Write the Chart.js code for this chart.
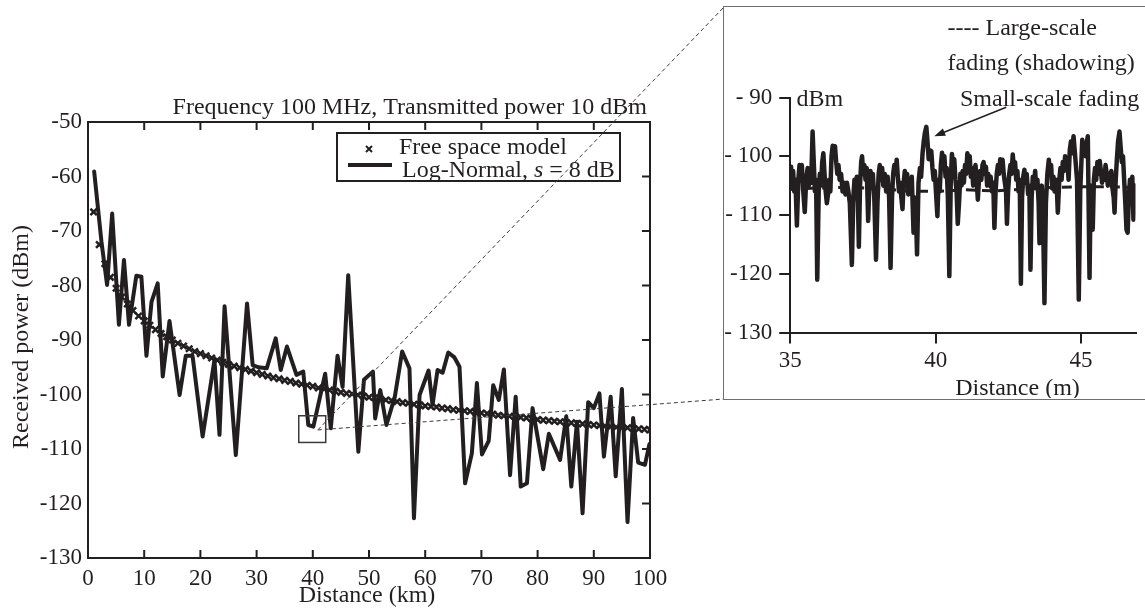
<!DOCTYPE html>
<html>
<head>
<meta charset="utf-8">
<script src="https://cdn.jsdelivr.net/npm/chart.js@4.4.1/dist/chart.umd.min.js"></script>
<style>
html, body { margin: 0; padding: 0; background: #fff; }
#wrap { position: relative; width: 1145px; height: 616px; overflow: hidden; }
#main { position: absolute; left: 0; top: 0; }
#insetBox { position: absolute; left: 723px; top: 6px; width: 422px; height: 394px;
  border: 1.5px solid #6f6f6f; border-right: none; box-sizing: border-box; background: #fff; }
#inset { position: absolute; left: 0; top: 0; }
</style>
</head>
<body>
<div id="wrap">
  <canvas id="main" width="1145" height="616"></canvas>
  <div id="insetBox"><canvas id="inset" width="420" height="391"></canvas></div>
</div>
<script>
// main chart: free space model (km, dBm)
const fsKm = [1,2,3,4,5,6,7,8,9,10,11,12,13,14,15,16,17,18,19,20,21,22,23,24,25,26,27,28,29,30,
  31,32,33,34,35,36,37,38,39,40,41,42,43,44,45,46,47,48,49,50,51,52,53,54,55,56,57,58,59,60,
  61,62,63,64,65,66,67,68,69,70,71,72,73,74,75,76,77,78,79,80,81,82,83,84,85,86,87,88,89,90,
  91,92,93,94,95,96,97,98,99,100];
const fsDbm = [-66.5,-72.5,-76.0,-78.5,-80.5,-82.1,-83.4,-84.6,-85.6,-86.5,
  -87.3,-88.1,-88.8,-89.4,-90.0,-90.6,-91.1,-91.6,-92.1,-92.5,
  -92.9,-93.3,-93.7,-94.1,-94.5,-94.8,-95.1,-95.4,-95.7,-96.0,
  -96.3,-96.6,-96.9,-97.1,-97.4,-97.6,-97.9,-98.1,-98.3,-98.5,
  -98.8,-99.0,-99.2,-99.4,-99.6,-99.8,-99.9,-100.1,-100.3,-100.5,
  -100.6,-100.8,-101.0,-101.1,-101.3,-101.5,-101.6,-101.8,-101.9,-102.1,
  -102.2,-102.3,-102.5,-102.6,-102.8,-102.9,-103.0,-103.1,-103.3,-103.4,
  -103.5,-103.6,-103.8,-103.9,-104.0,-104.1,-104.2,-104.3,-104.5,-104.6,
  -104.7,-104.8,-104.9,-105.0,-105.1,-105.2,-105.3,-105.4,-105.5,-105.6,
  -105.7,-105.8,-105.9,-106.0,-106.1,-106.1,-106.2,-106.3,-106.4,-106.5];

// main chart: log-normal shadowing (km, dBm)
const lnKm = [1.1,2.4,3.4,4.3,5.5,6.4,7.3,8.6,9.5,10.4,11.3,12.4,13.3,14.5,16.3,17.4,18.6,20.4,22.5,23.4,
  24.3,26.3,28.3,29.3,30.3,31.8,33.4,34.3,35.4,37.1,38.3,39.2,40.1,42.2,43.2,44.4,45.3,46.3,48.1,49.1,
  50.7,51.1,52.0,53.1,54.6,55.9,57.2,58.0,59.0,60.6,61.3,62.2,63.1,64.1,65.2,66.1,67.1,68.3,69.2,70.1,
  71.3,72.1,73.1,74.0,75.1,76.1,77.0,78.1,79.1,81.0,82.0,84.0,85.1,86.0,87.0,88.0,89.0,90.0,91.0,91.8,
  93.0,93.9,95.0,96.0,97.0,97.9,99.1,99.9];
const lnDbm = [-59.1,-72.0,-79.9,-66.8,-87.2,-75.3,-87.2,-78.2,-78.4,-92.9,-83.0,-79.6,-96.7,-86.5,-100.1,-92.9,-92.9,-107.7,-93.7,-107.4,
  -83.8,-111.1,-83.3,-94.6,-95.0,-95.2,-89.7,-95.5,-91.2,-96.4,-95.8,-105.6,-105.9,-96.2,-106.2,-92.9,-98.6,-78.1,-110.5,-97.3,
  -95.8,-104.4,-99.2,-105.6,-100.4,-92.1,-95.2,-122.7,-100.1,-95.6,-101.9,-95.5,-96.0,-92.3,-93.2,-94.9,-116.3,-110.8,-97.9,-111.0,
  -108.5,-98.3,-101.0,-95.4,-114.8,-100.4,-116.9,-116.3,-102.5,-113.7,-107.2,-112.0,-104.0,-116.9,-105.0,-121.8,-101.4,-102.5,-99.8,-111.4,
  -100.4,-115.0,-99.0,-123.4,-104.3,-112.5,-112.9,-109.1];

const mainXTicks = [0,10,20,30,40,50,60,70,80,90,100];
const mainYTicks = [-130,-120,-110,-100,-90,-80,-70,-60,-50];
const legendLabels = ['Free space model', 'Log-Normal, ', 's', ' = 8 dB'];
const mainTitle = 'Frequency 100 MHz, Transmitted power 10 dBm';

// zoomed region marked on main chart
const zoomKm = [37.5, 42.3];
const zoomDbm = [-103.9, -108.8];
const zoomAnchor = [40.9, -106.5];

// inset: small-scale fading (m, dBm)
const ssM = [35.00,35.03,35.07,35.10,35.14,35.18,35.23,35.28,35.32,35.36,35.40,35.45,35.50,35.55,35.60,35.64,35.68,35.72,35.77,35.81,35.85,35.89,35.93,35.98,
  36.02,36.06,36.10,36.14,36.18,36.22,36.26,36.30,36.34,36.38,36.42,36.46,36.50,36.54,36.58,36.62,36.66,36.70,36.75,36.80,36.85,36.90,36.95,
  37.00,37.05,37.12,37.17,37.21,37.25,37.29,37.33,37.36,37.40,37.44,37.47,37.51,37.55,37.59,37.63,37.68,37.72,37.76,37.80,37.84,37.89,37.95,
  38.00,38.04,38.08,38.12,38.16,38.20,38.25,38.30,38.35,38.40,38.45,38.50,38.54,38.58,38.62,38.66,38.70,38.74,38.78,38.82,38.86,38.90,38.94,38.98,
  39.02,39.06,39.10,39.14,39.18,39.24,39.28,39.32,39.36,39.41,39.46,39.50,39.55,39.59,39.63,39.68,39.72,39.76,39.80,39.85,39.89,39.93,39.97,
  40.01,40.06,40.10,40.14,40.18,40.22,40.26,40.30,40.34,40.38,40.42,40.47,40.52,40.56,40.60,40.64,40.68,40.72,40.76,40.81,40.85,40.89,40.93,40.97,
  41.01,41.05,41.09,41.13,41.17,41.21,41.25,41.29,41.33,41.37,41.41,41.45,41.49,41.53,41.57,41.61,41.65,41.69,41.73,41.77,41.81,41.85,41.89,41.94,41.98,
  42.02,42.06,42.10,42.14,42.18,42.22,42.26,42.30,42.34,42.38,42.42,42.45,42.49,42.53,42.57,42.61,42.65,42.69,42.73,42.77,42.81,42.85,42.89,42.93,42.97,
  43.01,43.05,43.09,43.13,43.18,43.22,43.26,43.30,43.34,43.38,43.42,43.46,43.50,43.54,43.57,43.61,43.65,43.69,43.74,43.79,43.84,43.89,43.93,43.97,
  44.01,44.05,44.09,44.13,44.17,44.20,44.25,44.29,44.33,44.37,44.41,44.45,44.49,44.53,44.57,44.61,44.65,44.69,44.74,44.78,44.82,44.86,44.92,44.97,
  45.01,45.04,45.08,45.12,45.16,45.20,45.23,45.29,45.33,45.37,45.40,45.44,45.48,45.52,45.56,45.60,45.64,45.68,45.72,45.76,45.80,45.84,45.88,45.92,45.96,
  46.00,46.04,46.08,46.12,46.15,46.19,46.23,46.27,46.32,46.36,46.40,46.44,46.48,46.52,46.56,46.60,46.64,46.68,46.72,46.76,46.80,46.85];
const ssDbm = [-103.5,-101.8,-105.5,-102.5,-106,-104,-111.8,-104,-101.5,-103.5,-101.5,-106,-109.5,-104,-102,-105,-103,-104.5,-95.8,-101,-106,-104,-121,-106,
  -103,-105,-101,-99.5,-103,-106,-108,-106.5,-104,-106,-100,-98.2,-99.5,-98.3,-101,-103,-101.5,-104,-103,-106,-104.5,-106.5,-104.5,
  -106,-108,-118.5,-107,-104,-106,-103.5,-108,-115.4,-105,-101,-100,-103,-101.5,-104,-102,-111,-105,-102.5,-105,-103,-107,-117.6,
  -108,-103,-101.5,-104,-102,-105,-103,-106,-103.5,-107,-119,-107,-103,-101.5,-103,-100.6,-103.5,-106,-104.5,-107,-109,-104.5,-102.5,-104.5,
  -103,-106.5,-104,-106,-103.5,-113,-107,-109,-116.7,-104.5,-102,-103.5,-99.5,-97.5,-96,-95,-97.5,-100.5,-99,-99.1,-102,-104,-102.5,
  -106,-110.2,-104,-106,-101.5,-99.4,-101,-100,-103.5,-102,-107,-120.4,-104,-99.6,-101.5,-100.5,-104,-106,-111.5,-107.4,-103,-105,-102.5,-104.5,
  -101.5,-103,-99.5,-101,-100,-103.5,-102,-105,-103,-101.5,-104,-107.4,-104,-102.5,-104,-101.5,-101,-103,-101.8,-105,-103,-105,-103.5,-106,-104.5,
  -112.2,-106,-103,-101.5,-103,-100.5,-102,-100.6,-103,-104.5,-106,-111.5,-106,-103,-101.5,-103,-99.7,-102,-101,-104,-102.5,-106,-104,-121.7,-107,
  -103.5,-102.3,-104.5,-103,-106.5,-105,-119.3,-107,-103.5,-105,-102.5,-105.5,-104,-108,-114.8,-107,-105,-110,-125,-108,-103,-100.6,-103,-101.5,
  -105.5,-103.5,-106,-104,-106,-109.6,-104,-102,-104,-101,-102.5,-100,-102,-101,-104,-99,-97.5,-99.5,-96.6,-99,-101.5,-104,-124.4,-106,
  -101,-97.2,-99.5,-98,-100,-97.5,-96.6,-120.7,-105,-108,-112.5,-104,-102,-104,-101,-103,-100.8,-102.5,-104.5,-102.5,-104,-101.5,-103,-105,-103,
  -104,-102.5,-105.5,-107,-109.6,-104,-100.5,-97.5,-95.8,-98.5,-101,-100,-104,-108,-112.5,-113,-107,-104,-106,-103.5,-110.8,-105];

// inset: large-scale fading (m, dBm)
const lsM = [35.0,36.0,37.0,38.0,39.0,40.0,41.0,42.0,43.0,44.0,45.0,46.0,46.85];
const lsDbm = [-105.6,-105.4,-105.3,-105.5,-105.9,-106.0,-105.7,-105.9,-105.6,-105.3,-105.2,-105.2,-105.3];

const insetXTicks = [35, 40, 45];
const insetYTicks = [-130, -120, -110, -100, -90];
const insetYLabels = ['- 130', '-120', '- 110', '- 100', '- 90'];
const insetTexts = ['---- Large-scale', 'fading (shadowing)', 'Small-scale fading', 'dBm', 'Distance (m)'];
const arrowTip = [39.95, -96.6];

const INK = '#231f20';
const SERIF = '"Liberation Serif", "Times New Roman", serif';

function pairs(xs, ys) {
  return xs.map((v, i) => ({ x: v, y: ys[i] }));
}

const mainDecor = {
  id: 'mainDecor',
  afterDatasetsDraw(chart) {
    const { ctx, chartArea: a, scales: { x, y } } = chart;
    ctx.save();
    ctx.strokeStyle = INK;
    ctx.fillStyle = INK;

    // frame + inward ticks
    ctx.lineWidth = 2;
    ctx.strokeRect(a.left, a.top, a.right - a.left, a.bottom - a.top);
    ctx.beginPath();
    mainXTicks.slice(1, -1).forEach(v => {
      const px = x.getPixelForValue(v);
      ctx.moveTo(px, a.top); ctx.lineTo(px, a.top + 8);
      ctx.moveTo(px, a.bottom); ctx.lineTo(px, a.bottom - 8);
    });
    mainYTicks.slice(1, -1).forEach(v => {
      const py = y.getPixelForValue(v);
      ctx.moveTo(a.right, py); ctx.lineTo(a.right - 8, py);
    });
    ctx.stroke();

    // legend
    ctx.lineWidth = 2;
    ctx.strokeRect(337, 133, 283, 48);
    ctx.lineWidth = 2;
    ctx.beginPath();
    ctx.moveTo(366, 146); ctx.lineTo(372, 152);
    ctx.moveTo(372, 146); ctx.lineTo(366, 152);
    ctx.stroke();
    ctx.lineWidth = 4;
    ctx.beginPath(); ctx.moveTo(348, 165); ctx.lineTo(392, 165); ctx.stroke();
    ctx.textBaseline = 'alphabetic';
    ctx.textAlign = 'left';
    ctx.font = '24px ' + SERIF;
    ctx.fillText(legendLabels[0], 399, 154);
    let tx = 402;
    ctx.fillText(legendLabels[1], tx, 177);
    tx += ctx.measureText(legendLabels[1]).width;
    ctx.font = 'italic 24px ' + SERIF;
    ctx.fillText(legendLabels[2], tx, 177);
    tx += ctx.measureText(legendLabels[2]).width;
    ctx.font = '24px ' + SERIF;
    ctx.fillText(legendLabels[3], tx, 177);

    // titles
    ctx.textAlign = 'right';
    ctx.fillText(mainTitle, 647, 114);
    ctx.textAlign = 'center';
    ctx.fillText('Distance (km)', 367, 602);
    ctx.save();
    ctx.translate(28, 337);
    ctx.rotate(-Math.PI / 2);
    ctx.fillText('Received power (dBm)', 0, 0);
    ctx.restore();

    // zoom box and connectors to the inset
    const x0 = x.getPixelForValue(zoomKm[0]), x1 = x.getPixelForValue(zoomKm[1]);
    const y0 = y.getPixelForValue(zoomDbm[0]), y1 = y.getPixelForValue(zoomDbm[1]);
    ctx.strokeStyle = '#3a3a3a';
    ctx.lineWidth = 1.5;
    ctx.strokeRect(x0, y0, x1 - x0, y1 - y0);
    const ax = x.getPixelForValue(zoomAnchor[0]), ay = y.getPixelForValue(zoomAnchor[1]);
    ctx.lineWidth = 1;
    ctx.setLineDash([4, 3]);
    ctx.beginPath();
    ctx.moveTo(ax, ay); ctx.lineTo(724, 7);
    ctx.moveTo(ax, ay); ctx.lineTo(724, 399);
    ctx.stroke();
    ctx.restore();
  }
};

new Chart(document.getElementById('main'), {
  type: 'scatter',
  data: {
    datasets: [
      {
        label: 'Free space model',
        data: pairs(fsKm, fsDbm),
        showLine: false,
        pointStyle: 'crossRot',
        pointRadius: 4.5,
        pointBorderWidth: 2.5,
        borderColor: INK,
        backgroundColor: INK
      },
      {
        label: 'Log-Normal',
        data: pairs(lnKm, lnDbm),
        showLine: true,
        borderColor: INK,
        borderWidth: 4,
        borderJoinStyle: 'round',
        borderCapStyle: 'round',
        pointRadius: 0
      }
    ]
  },
  options: {
    responsive: false,
    animation: false,
    devicePixelRatio: 1,
    layout: { padding: { left: 0, top: 122, right: 495, bottom: 0 } },
    plugins: { legend: { display: false }, tooltip: { enabled: false } },
    scales: {
      x: {
        type: 'linear', min: 0, max: 100,
        afterBuildTicks: s => { s.ticks = mainXTicks.map(v => ({ value: v })); },
        afterFit: s => { s.height = 58; },
        grid: { display: false, drawTicks: false },
        border: { display: false },
        ticks: { color: INK, font: { family: SERIF, size: 23 }, padding: 7, maxRotation: 0, autoSkip: false }
      },
      y: {
        type: 'linear', min: -130, max: -50,
        afterBuildTicks: s => { s.ticks = mainYTicks.map(v => ({ value: v })); },
        afterFit: s => { s.width = 88; },
        grid: { display: false, drawTicks: false },
        border: { display: false },
        ticks: { color: INK, font: { family: SERIF, size: 23 }, padding: 6, autoSkip: false }
      }
    }
  },
  plugins: [mainDecor]
});

const insetDecor = {
  id: 'insetDecor',
  afterDatasetsDraw(chart) {
    const { ctx, scales: { x, y } } = chart;
    ctx.save();
    ctx.fillStyle = INK;
    ctx.strokeStyle = INK;
    ctx.font = '24px ' + SERIF;
    ctx.textBaseline = 'alphabetic';
    ctx.textAlign = 'left';
    ctx.fillText(insetTexts[0], 223.5, 27.5);
    ctx.fillText(insetTexts[1], 223.5, 63);
    ctx.fillText(insetTexts[2], 236, 98.5);
    ctx.fillText(insetTexts[3], 72.5, 98.5);
    ctx.textAlign = 'center';
    ctx.fillText(insetTexts[4], 293.5, 387.5);

    // arrow to the small-scale peak
    const tipX = x.getPixelForValue(arrowTip[0]), tipY = y.getPixelForValue(arrowTip[1]);
    const tailX = 282.2, tailY = 100.2;
    const ang = Math.atan2(tipY - tailY, tipX - tailX);
    ctx.lineWidth = 1.5;
    ctx.beginPath();
    ctx.moveTo(tailX, tailY);
    ctx.lineTo(tipX - 8 * Math.cos(ang), tipY - 8 * Math.sin(ang));
    ctx.stroke();
    ctx.beginPath();
    ctx.moveTo(tipX, tipY);
    ctx.lineTo(tipX - 11 * Math.cos(ang) + 4 * Math.sin(ang), tipY - 11 * Math.sin(ang) - 4 * Math.cos(ang));
    ctx.lineTo(tipX - 11 * Math.cos(ang) - 4 * Math.sin(ang), tipY - 11 * Math.sin(ang) + 4 * Math.cos(ang));
    ctx.closePath();
    ctx.fill();
    ctx.restore();
  }
};

new Chart(document.getElementById('inset'), {
  type: 'scatter',
  data: {
    datasets: [
      {
        label: 'Large-scale fading (shadowing)',
        data: pairs(lsM, lsDbm),
        showLine: true,
        borderColor: INK,
        borderWidth: 3,
        borderDash: [10, 6],
        pointRadius: 0
      },
      {
        label: 'Small-scale fading',
        data: pairs(ssM, ssDbm),
        showLine: true,
        borderColor: INK,
        borderWidth: 4.5,
        borderJoinStyle: 'round',
        borderCapStyle: 'round',
        pointRadius: 0
      }
    ]
  },
  options: {
    responsive: false,
    animation: false,
    devicePixelRatio: 1,
    layout: { padding: { left: 0, top: 90.5, right: 8.5, bottom: 0 } },
    plugins: { legend: { display: false }, tooltip: { enabled: false } },
    scales: {
      x: {
        type: 'linear', min: 35, max: 46.87,
        afterBuildTicks: s => { s.ticks = insetXTicks.map(v => ({ value: v })); },
        afterFit: s => { s.height = 65.5; },
        grid: { display: true, drawOnChartArea: false, drawTicks: true, tickLength: 11, color: INK, lineWidth: 2 },
        border: { display: true, color: INK, width: 2 },
        ticks: { color: INK, font: { family: SERIF, size: 23 }, padding: 4, maxRotation: 0, autoSkip: false }
      },
      y: {
        type: 'linear', min: -130, max: -90,
        afterBuildTicks: s => { s.ticks = insetYTicks.map(v => ({ value: v })); },
        afterFit: s => { s.width = 66.2; },
        grid: { display: true, drawOnChartArea: false, drawTicks: true, tickLength: 11, color: INK, lineWidth: 2 },
        border: { display: true, color: INK, width: 2 },
        ticks: {
          color: INK, font: { family: SERIF, size: 23 }, padding: 7, autoSkip: false,
          callback: (v, i) => insetYLabels[i]
        }
      }
    }
  },
  plugins: [insetDecor]
});
</script>
</body>
</html>
